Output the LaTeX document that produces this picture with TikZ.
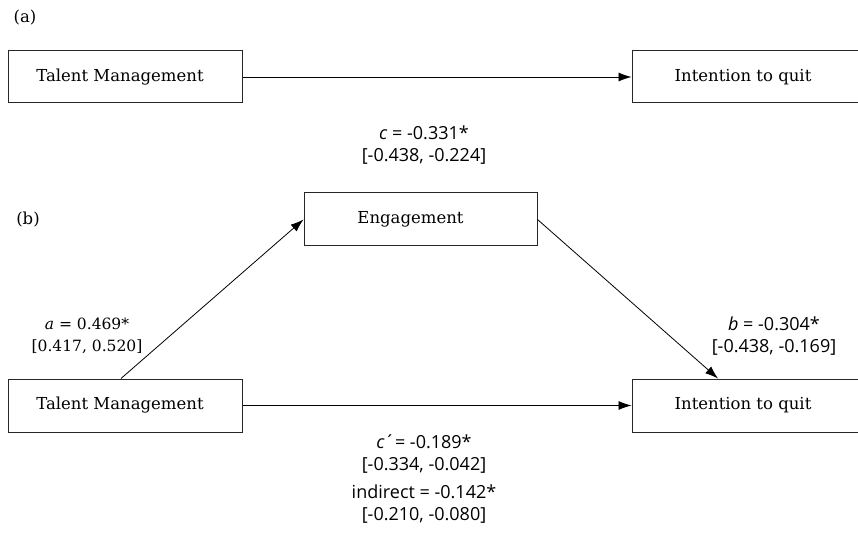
\documentclass[tikz,border=0pt]{standalone}
\usepackage{fontspec}
\setmainfont{DejaVu Serif}
\newfontfamily\lblfont{Open Sans}
\usetikzlibrary{arrows.meta}
\newcommand{\boxtxt}[2]{\kern#1\raisebox{-2.5pt}{#2}}
\begin{document}
\begin{tikzpicture}[x=1pt,y=-1pt,
  box/.style={draw, draw=black!85, line width=1pt, minimum width=234pt, minimum height=52pt,
    inner sep=0pt, font=\fontsize{16.5}{20}\selectfont},
  tag/.style={inner sep=0pt, font=\fontsize{16.5}{20}\selectfont},
  lbl/.style={align=center, inner sep=0pt, font=\lblfont\fontsize{18}{22.5}\selectfont},
  slbl/.style={align=center, inner sep=0pt, font=\fontsize{15.5}{22}\selectfont},
  arr/.style={-{Latex[length=13pt,width=9pt]}, line width=0.8pt}]
\useasboundingbox (0,0) rectangle (858,534);
% panel (a)
\node[tag] (tagA) at (25,18) {(a)};
\node[box] (tmA) at (125,77) {\boxtxt{-10pt}{Talent Management}};
\node[box] (itqA) at (749,77) {\boxtxt{-12pt}{Intention to quit}};
\draw[arr] (tmA.east) -- (itqA.west);
\node[lbl] (cA) at (424,145) {\textit{c} = -0.331*\\{}[-0.438, -0.224]};
% panel (b)
\node[tag] (tagB) at (28,220) {(b)};
\node[box, minimum width=233pt, minimum height=53pt] (eng) at (420.5,219.5) {\boxtxt{-20pt}{Engagement}};
\node[box, minimum height=53pt] (tmB) at (125,405.5) {\boxtxt{-10pt}{Talent Management}};
\node[box, minimum height=53pt] (itqB) at (749,405.5) {\boxtxt{-12pt}{Intention to quit}};
\draw[arr] ([xshift=-4pt]tmB.north) -- (eng.west);
\draw[arr] (eng.east) -- ([xshift=-31pt]itqB.north);
\draw[arr] (tmB.east) -- (itqB.west);
\node[slbl] (aL) at (87,336) {\textit{a} = 0.469*\\{}[0.417, 0.520]};
\node[lbl] (bL) at (774,336) {\textit{b} = -0.304*\\{}[-0.438, -0.169]};
\node[lbl] (cpL) at (424,454) {\textit{c}´= -0.189*\\{}[-0.334, -0.042]};
\node[lbl] (indL) at (424,504) {indirect = -0.142*\\{}[-0.210, -0.080]};
\end{tikzpicture}
\end{document}
